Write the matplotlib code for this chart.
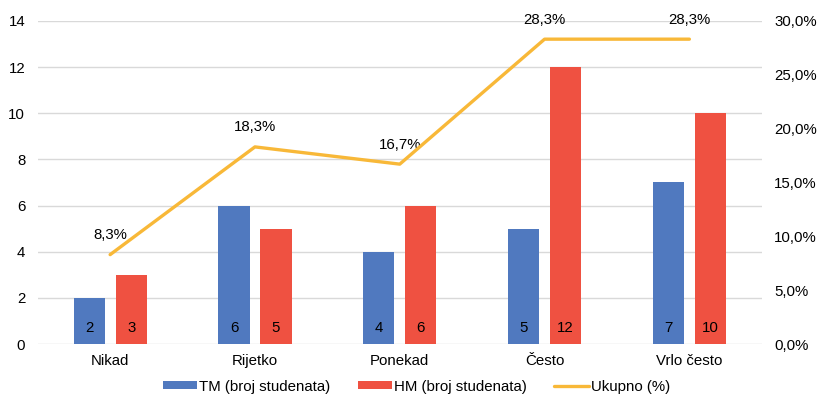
import matplotlib.pyplot as plt
import numpy as np
from matplotlib.ticker import FuncFormatter

categories = ["Nikad", "Rijetko", "Ponekad", "Često", "Vrlo često"]
tm_counts = [2, 6, 4, 5, 7]
hm_counts = [3, 5, 6, 12, 10]
ukupno_pct = [8.3, 18.3, 16.7, 28.3, 28.3]

BLUE = "#5079BF"
RED = "#EF5141"
YELLOW = "#F8B838"
GRID = "#D9D9D9"
FS = 10.8

plt.rcParams["font.family"] = ["Liberation Sans", "DejaVu Sans"]

fig = plt.figure(figsize=(8.2, 4.01), dpi=100)
ax = fig.add_axes([0.046, 0.142, 0.883, 0.806])
ax2 = ax.twinx()

x = np.arange(len(categories))
width = 0.215
offset = 0.145

b1 = ax.bar(x - offset, tm_counts, width, color=BLUE, label="TM (broj studenata)", zorder=2)
b2 = ax.bar(x + offset, hm_counts, width, color=RED, label="HM (broj studenata)", zorder=2)

for bars, vals in ((b1, tm_counts), (b2, hm_counts)):
    for rect, v in zip(bars, vals):
        ax.text(rect.get_x() + rect.get_width() / 2, 0.7, str(v),
                ha="center", va="center", fontsize=FS, color="black", zorder=3)

ax.set_xlim(-0.5, len(categories) - 0.5)
ax.set_ylim(0, 14)
ax.set_yticks(range(0, 15, 2))
ax.yaxis.grid(True, color=GRID, linewidth=1)
ax.set_axisbelow(True)
ax.set_xticks(x)
ax.set_xticklabels(categories)

line, = ax2.plot(x, ukupno_pct, color=YELLOW, linewidth=2.4, label="Ukupno (%)",
                 solid_capstyle="round", zorder=4)
for xi, p in zip(x, ukupno_pct):
    ax2.annotate(f"{p:.1f}%".replace(".", ","), (xi, p), xytext=(0, 14),
                 textcoords="offset points", ha="center", va="center", fontsize=FS)
ax2.set_ylim(0, 30)
ax2.set_yticks(range(0, 31, 5))
ax2.yaxis.set_major_formatter(FuncFormatter(lambda v, _: f"{v:.1f}%".replace(".", ",")))

for a in (ax, ax2):
    for s in a.spines.values():
        s.set_visible(False)
    a.tick_params(length=0, labelsize=FS, colors="black")
ax.tick_params(axis="y", pad=9)
ax.tick_params(axis="x", pad=7)
ax2.tick_params(axis="y", pad=9)

fig.legend(handles=[b1, b2, line], loc="lower center", bbox_to_anchor=(0.508, -0.015),
           ncol=3, frameon=False, fontsize=FS, handlelength=2.3, handleheight=0.5,
           handletextpad=0.15, columnspacing=1.8)

fig.savefig("out.png", dpi=100)
